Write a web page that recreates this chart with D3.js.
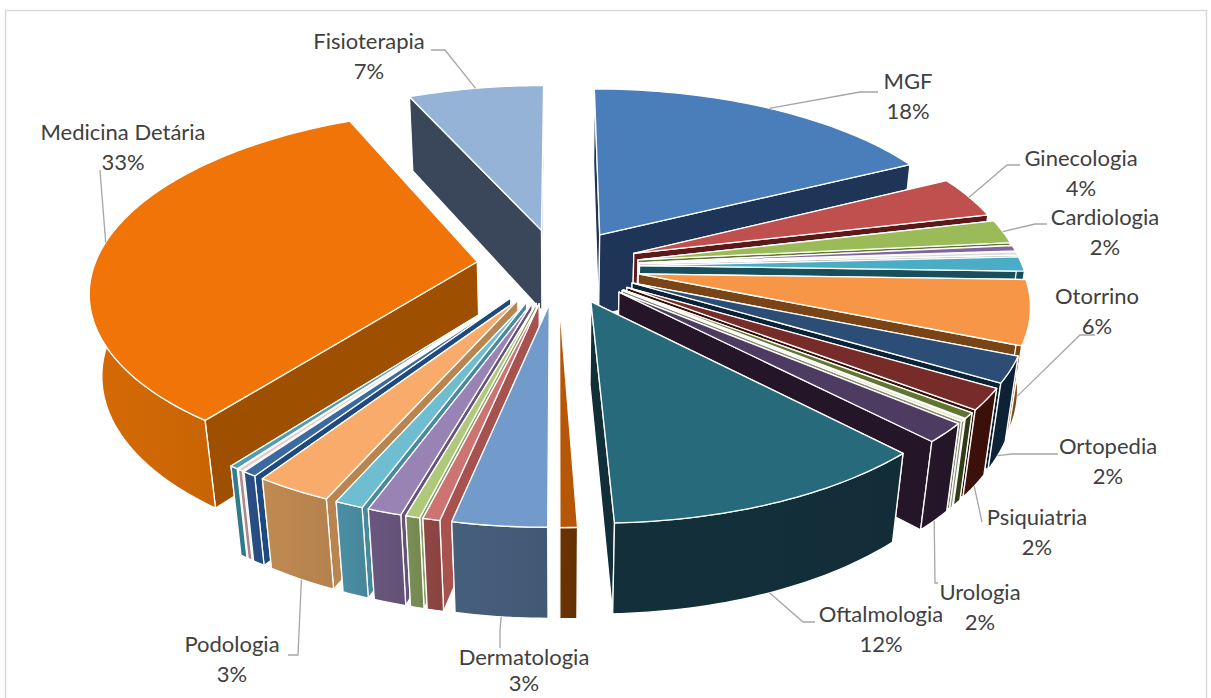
<!DOCTYPE html>
<html><head><meta charset="utf-8">
<script src="https://cdn.jsdelivr.net/npm/d3@7"></script>
<style>html,body{margin:0;background:#fff}svg{display:block}text{font-family:Lato,"Open Sans",sans-serif;fill:#404040;font-size:22px}</style>
</head><body><svg id="c" width="1211" height="698"></svg>
<script>
const names=["MGF","Ginecologia","Cardiologia","","","","Otorrino","Ortopedia","Psiquiatria","","","Urologia","Oftalmologia","","Dermatologia","","","","","Podologia","","","","Medicina Detária","Fisioterapia"];
const values=[17.6,3.7,2.1,0.5,0.3,1.3,5.7,2.3,1.9,0.5,0.2,1.7,11.6,0.6,3.3,0.6,0.5,1.2,1.0,2.7,0.5,0.2,0.3,33.0,6.7];
const percents=["18%","4%","2%","","","","6%","2%","2%","","","2%","12%","","3%","","","","","3%","","","","33%","7%"];
const topColors=["#4a7ebb","#c0504d","#9bbb59","#8064a2","#d9d9d9","#4bacc6","#f79646","#2c4d75","#772c2a","#5f7530","#e8e8d0","#4d3b62","#276a7c","#b65708","#729aca","#cd7371","#afc97a","#9983b5","#6fbdd1","#f9ab6b","#3a6aa0","#e8c8c8","#4b9cb6","#f07408","#95b3d7"];
const wallColors=["#1f3557","#5b1a19","#5f7530","#4d3b62","#8c8c8c","#174f5c","#7a4516","#0c2236","#3a1008","#2e3a15","#8a8a70","#241628","#122e38","#663200","#435b78","#a85250","#8aa060","#65537a","#48899d","#b8844f","#1f4a80","#aa8888","#2f7a8a","#9e5000","#3a465a"];
const rimColors=["#1f3557","#5b1a19","#5f7530","#4d3b62","#8c8c8c","#174f5c","#7a4516","#0c2236","#3a1008","#2e3a15","#8a8a70","#241628","#122e38","#663200","#435b78","#8b4442","#758a52","#65537a","#48899d","#b8844f","#274d80","#aa8888","#2f7a8a","#cc6604","#3a465a"];
// label text centre, and leader elbow + leader end next to the text
const labelLayout={
"MGF":[908,82,[860,92],[878,92],0],
"Ginecologia":[1081,159,[1007,165],[1020,165],0],
"Cardiologia":[1105,218,[1035,224],[1047,224],0],
"Otorrino":[1097,297,[1080,335],[1095,335],1],
"Ortopedia":[1108,447,[1012,454],[1058,454],1],
"Psiquiatria":[1037,518,[982,522],[982,522],1],
"Urologia":[980,593,[935,583],[938,583],1],
"Oftalmologia":[881,615,[803,622],[815,622],1],
"Dermatologia":[524,658,[500,630],[500,648],1],
"Podologia":[232,645,[298,655],[288,655],1],
"Medicina Detária":[123,133,[100,170],[100,170],0],
"Fisioterapia":[369,42,[445,50],[431,50],0]};

const W=1211,H=698,cx=558,cy=266,R=383,Ry=176.4,k=0.15,m=0.027,Hd=84,explode=0.213;
const svg=d3.select("#c");
const defs=svg.append("defs");
svg.append("rect").attr("x",5.5).attr("y",10.5).attr("width",1201).attr("height",720).attr("fill","#fff").attr("stroke","#d9d9d9").attr("stroke-width",1.5);
const project=(u,v,d)=>{const D=1+k*v+m*d;return [cx+R*u/D,cy+(-Ry*v+Hd*d)/D];};
const pie=d3.pie().sort(null).startAngle(0).endAngle(2*Math.PI);
const arcs=pie(values);
const line=d3.line();
const slices=arcs.map((a,i)=>{const mid=(a.startAngle+a.endAngle)/2;
  return {i,a,mid,ou:explode*Math.sin(mid),ov:explode*Math.cos(mid)};});
const rim=(s,t,d)=>project(s.ou+Math.sin(t),s.ov+Math.cos(t),d);
rimColors.forEach((c,i)=>{const lg=defs.append("linearGradient").attr("id","rim"+i);
  lg.append("stop").attr("offset",0).attr("stop-color",d3.color(c).brighter(0.12));
  lg.append("stop").attr("offset",1).attr("stop-color",d3.color(c).darker(0.06));});
const order=slices.slice().sort((p,q)=>Math.cos(q.mid)-Math.cos(p.mid));
const g=svg.append("g").attr("stroke","#fff").attr("stroke-width",1.3).attr("stroke-linejoin","round");
order.forEach(s=>{
  const {a,i}=s,n=Math.max(2,Math.ceil((a.endAngle-a.startAngle)/0.02));
  const ts=d3.range(n+1).map(j=>a.startAngle+(a.endAngle-a.startAngle)*j/n);
  const ap0=project(s.ou,s.ov,0),ap1=project(s.ou,s.ov,1);
  const wall=t=>line([ap0,rim(s,t,0),rim(s,t,1),ap1])+"Z";
  const first=a.startAngle,last=a.endAngle;
  const farFirst=Math.cos(first)>Math.cos(last);
  (farFirst?[first,last]:[last,first]).forEach(t=>g.append("path").attr("d",wall(t)).attr("fill",wallColors[i]));
  const vis=ts.filter(t=>Math.cos(t)<0.1);
  if(vis.length>1)g.append("path").attr("d",line(vis.map(t=>rim(s,t,0)).concat(vis.slice().reverse().map(t=>rim(s,t,1))))+"Z").attr("fill","url(#rim"+i+")");
  g.append("path").attr("d",line([ap0].concat(ts.map(t=>rim(s,t,0))))+"Z").attr("fill",topColors[i]);
});
const lg=svg.append("g");
slices.forEach(s=>{const nm=names[s.i];if(!nm)return;const L=labelLayout[nm];
  lg.append("path").attr("d",line([rim(s,s.mid,L[4]),L[2],L[3]])).attr("fill","none").attr("stroke","#a6a6a6").attr("stroke-width",1.3);
  lg.append("text").attr("x",L[0]).attr("y",L[1]+7).attr("text-anchor","middle").text(nm);
  lg.append("text").attr("x",L[0]).attr("y",Math.min(L[1]+37,691)).attr("text-anchor","middle").text(percents[s.i]);
});
</script></body></html>
